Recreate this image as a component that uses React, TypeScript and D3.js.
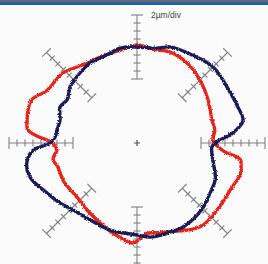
import React, { useEffect, useRef } from 'react';
import * as d3 from 'd3';

// roundness profiles: angle in degrees (counter-clockwise from 3 o'clock), deviation in µm
const blueAngles = [1, 6, 12, 20, 30, 45, 59, 71, 78, 91, 100, 109, 120, 129, 140, 148, 155, 163, 171, 176, 180, 184, 189, 194, 199, 209, 218, 226, 241, 253, 270, 278, 288, 299, 315, 326, 335, 347, 357];
const blueDev = [-4.0, 0.1, 3.1, 2.75, 2.5, 2.9, 1.9, 1.4, 0.25, 0, 0.1, -0.75, -0.8, -1.4, -2.2, -3.45, -2.75, -3.9, -3.75, -3.45, -2.25, 2.05, 3.8, 4.3, 3.9, 1.75, 0.4, -0.8, -1.5, -1.25, -1.0, -0.25, -0.25, -0.05, -0.85, -1.9, -2.4, -4.5, -5.25];

const redAngles = [2, 9.5, 17, 31, 45, 58, 70, 80, 90, 100, 113, 120, 128, 137, 150, 158, 168, 173, 176, 179, 185, 191, 197, 207, 222, 236, 251, 260, 268, 276, 283, 289, 307, 320, 335, 343, 348, 351, 355];
const redDev = [-5, -4.25, -4.4, -3.25, -1.75, -0.4, 0.2, -0.25, 0.5, -0.4, -0.6, -0.6, 0.2, 1.5, 2.1, 4.5, 4.1, 3.5, 1.1, -2.25, -3.9, -2.6, -3.35, -3.3, -3.8, -2.9, -1.25, 0, 1.0, -1.25, -1.0, -0.5, 2.25, 2.1, 2.2, 3.0, 2.6, 2.1, -2.5];

const scaleDirections = [0, 45, 90, 135, 180, 225, 270, 315];
const scaleTicks = [-8, -6, -4, -2, 0, 2, 4, 6, 8];
const scaleLabel = '2µm/div';

const App: React.FC = () => {
  const svgRef = useRef<SVGSVGElement>(null);
  const width = 268;
  const height = 264;
  const cx = 137;
  const cy = 143;

  useEffect(() => {
    if (!svgRef.current) return;
    const svg = d3.select(svgRef.current);
    svg.selectAll('*').remove();

    const r = d3.scaleLinear().domain([-8, 8]).range([64, 128]);
    const toRad = (deg: number) => ((90 - deg) * Math.PI) / 180;

    // jagged trace look of the measured profile
    const defs = svg.append('defs');
    const filter = defs.append('filter').attr('id', 'rough').attr('x', '-10%').attr('y', '-10%').attr('width', '120%').attr('height', '120%');
    filter.append('feTurbulence').attr('type', 'fractalNoise').attr('baseFrequency', 0.8).attr('numOctaves', 2).attr('seed', 3).attr('result', 'noise');
    filter.append('feDisplacementMap').attr('in', 'SourceGraphic').attr('in2', 'noise').attr('scale', 3).attr('xChannelSelector', 'R').attr('yChannelSelector', 'G');

    svg.append('rect').attr('width', width).attr('height', height).attr('fill', '#fbfbfb');

    // header bar
    svg.append('rect').attr('width', width).attr('height', 2).attr('fill', '#666a70');
    svg.append('rect').attr('y', 2).attr('width', width).attr('height', 3).attr('fill', '#1f5fae');

    const g = svg.append('g').attr('transform', `translate(${cx},${cy})`);

    // radial scale bars
    const scaleG = g.append('g').attr('stroke', '#808080').attr('stroke-width', 1.1).attr('fill', 'none');
    scaleDirections.forEach((deg) => {
      const a = (deg * Math.PI) / 180;
      const ux = Math.cos(a);
      const uy = -Math.sin(a);
      const px = -uy;
      const py = ux;
      scaleG
        .append('line')
        .attr('x1', ux * r(-8))
        .attr('y1', uy * r(-8))
        .attr('x2', ux * r(8))
        .attr('y2', uy * r(8));
      scaleTicks.forEach((t, i) => {
        const half = i === 0 || i === scaleTicks.length - 1 ? 6 : 3.5;
        const bx = ux * r(t);
        const by = uy * r(t);
        scaleG
          .append('line')
          .attr('x1', bx - px * half)
          .attr('y1', by - py * half)
          .attr('x2', bx + px * half)
          .attr('y2', by + py * half);
      });
    });

    // centre cross
    g.append('path').attr('d', 'M-3,0H3M0,-3V3').attr('stroke', '#555').attr('stroke-width', 1.2);

    const line = d3
      .lineRadial<[number, number]>()
      .angle((d) => toRad(d[0]))
      .radius((d) => r(d[1]))
      .curve(d3.curveCatmullRomClosed.alpha(0.5));

    const red = redAngles.map((a, i) => [a, redDev[i]] as [number, number]);
    const blue = blueAngles.map((a, i) => [a, blueDev[i]] as [number, number]);

    g.append('path')
      .datum(red)
      .attr('fill', 'none')
      .attr('stroke', '#e3261f')
      .attr('stroke-width', 3.4)
      .attr('filter', 'url(#rough)')
      .attr('d', line);

    g.append('path')
      .datum(blue)
      .attr('fill', 'none')
      .attr('stroke', '#1b1d55')
      .attr('stroke-width', 3.4)
      .attr('filter', 'url(#rough)')
      .attr('d', line);

    svg
      .append('text')
      .attr('x', 151)
      .attr('y', 18)
      .attr('font-family', 'Liberation Sans, Arial, sans-serif')
      .attr('font-size', 8.5)
      .attr('fill', '#444')
      .text(scaleLabel);
  }, []);

  return (
    <div style={{ position: 'absolute', left: 0, top: 0 }}>
      <svg ref={svgRef} width={width} height={height} style={{ display: 'block' }} />
    </div>
  );
};

export default App;
